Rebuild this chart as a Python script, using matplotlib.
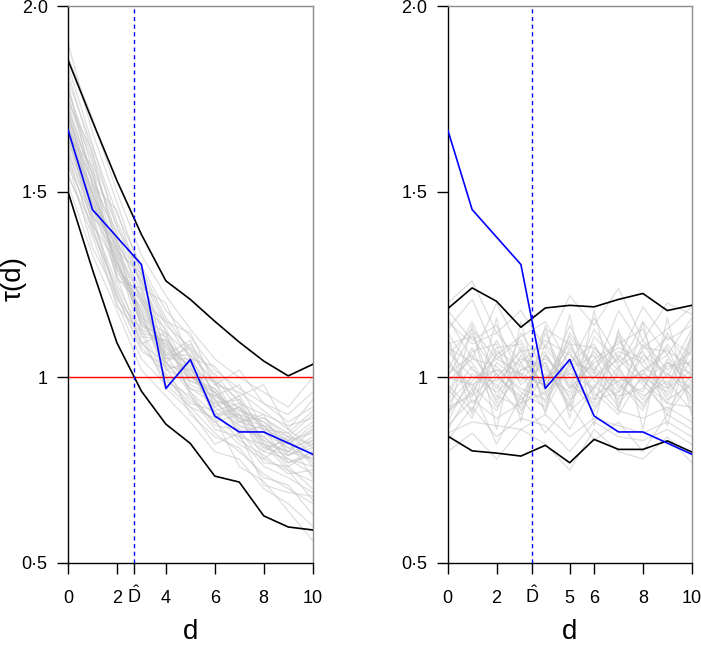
import matplotlib
matplotlib.use("Agg")
import matplotlib.pyplot as plt

plt.rcParams['font.family'] = ['Liberation Sans', 'DejaVu Sans']
plt.rcParams['mathtext.fontset'] = 'custom'
plt.rcParams['mathtext.rm'] = 'Liberation Sans'

d = list(range(11))

# observed statistic (same in both panels)
observed = [1.667, 1.452, 1.378, 1.304, 0.970, 1.048, 0.896, 0.853, 0.853, 0.823, 0.793]

# pointwise envelopes
left_upper = [1.855, 1.69, 1.53, 1.385, 1.26, 1.21, 1.151, 1.095, 1.044, 1.004, 1.035]
left_lower = [1.50, 1.29, 1.093, 0.963, 0.874, 0.822, 0.734, 0.718, 0.627, 0.597, 0.589]
right_upper = [1.185, 1.241, 1.205, 1.135, 1.187, 1.194, 1.19, 1.21, 1.226, 1.18, 1.194]
right_lower = [0.842, 0.802, 0.796, 0.788, 0.817, 0.77, 0.833, 0.806, 0.806, 0.829, 0.799]

d_hat_left = 2.71
d_hat_right = 3.44

left_ticks = [0, 2, d_hat_left, 4, 6, 8, 10]
left_ticklabels = ['0', '2', r'$\hat{\mathrm{D}}$', '4', '6', '8', '10']
right_ticks = [0, 2, d_hat_right, 5, 6, 8, 10]
right_ticklabels = ['0', '2', r'$\hat{\mathrm{D}}$', '5', '6', '8', '10']
y_ticks = [0.5, 1, 1.5, 2.0]
y_ticklabels = ['0·5', '1', '1·5', '2·0']

# simulated curves (grey)
sim_left = [
    [1.72, 1.55, 1.33, 1.22, 1.05, 1.08, 0.95, 0.98, 0.86, 0.83, 0.88],
    [1.61, 1.42, 1.25, 1.12, 1.10, 0.96, 0.90, 0.85, 0.80, 0.84, 0.76],
    [1.80, 1.62, 1.44, 1.30, 1.18, 1.11, 1.02, 0.97, 0.93, 0.88, 0.92],
    [1.55, 1.38, 1.20, 1.05, 0.98, 0.92, 0.85, 0.80, 0.74, 0.70, 0.66],
    [1.68, 1.47, 1.35, 1.15, 1.09, 0.99, 0.97, 0.88, 0.90, 0.79, 0.83],
    [1.75, 1.58, 1.38, 1.26, 1.12, 1.06, 0.99, 0.94, 0.86, 0.85, 0.79],
    [1.63, 1.50, 1.29, 1.17, 1.02, 1.04, 0.91, 0.93, 0.82, 0.77, 0.80],
    [1.90, 1.66, 1.47, 1.28, 1.15, 1.05, 0.96, 0.90, 0.88, 0.83, 0.85],
    [1.58, 1.35, 1.22, 1.08, 1.01, 0.94, 0.88, 0.82, 0.78, 0.75, 0.72],
    [1.70, 1.52, 1.30, 1.20, 1.07, 1.01, 0.92, 0.95, 0.85, 0.82, 0.86],
    [1.66, 1.44, 1.32, 1.14, 1.11, 1.00, 0.96, 0.87, 0.83, 0.80, 0.78],
    [1.78, 1.56, 1.41, 1.25, 1.04, 1.09, 1.00, 0.91, 0.89, 0.84, 0.90],
    [1.62, 1.46, 1.27, 1.19, 1.06, 0.97, 0.93, 0.89, 0.80, 0.78, 0.74],
    [1.73, 1.49, 1.36, 1.13, 1.09, 1.03, 0.89, 0.92, 0.87, 0.81, 0.83],
    [1.59, 1.40, 1.23, 1.10, 0.99, 0.95, 0.86, 0.84, 0.76, 0.73, 0.69],
    [1.84, 1.63, 1.40, 1.29, 1.16, 1.07, 0.98, 0.96, 0.91, 0.86, 0.94],
    [1.67, 1.53, 1.28, 1.21, 1.03, 1.02, 0.94, 0.86, 0.84, 0.79, 0.81],
    [1.69, 1.45, 1.34, 1.16, 1.12, 0.98, 0.95, 0.90, 0.81, 0.83, 0.77],
    [1.64, 1.51, 1.30, 1.18, 1.05, 1.05, 0.90, 0.92, 0.83, 0.76, 0.80],
    [1.76, 1.54, 1.37, 1.23, 1.08, 1.00, 0.97, 0.89, 0.87, 0.84, 0.82],
    [1.57, 1.43, 1.21, 1.13, 1.00, 0.93, 0.91, 0.83, 0.79, 0.74, 0.75],
    [1.71, 1.48, 1.32, 1.11, 1.10, 1.04, 0.93, 0.94, 0.82, 0.80, 0.84],
    [1.65, 1.57, 1.26, 1.24, 1.02, 0.99, 0.96, 0.88, 0.86, 0.77, 0.79],
    [1.82, 1.60, 1.42, 1.27, 1.14, 1.08, 1.01, 0.93, 0.90, 0.87, 0.89],
    [1.60, 1.39, 1.24, 1.09, 1.04, 0.96, 0.87, 0.86, 0.77, 0.76, 0.70],
    [1.74, 1.52, 1.39, 1.20, 1.13, 1.01, 0.94, 0.91, 0.88, 0.82, 0.87],
    [1.66, 1.41, 1.31, 1.15, 1.06, 1.06, 0.92, 0.87, 0.85, 0.81, 0.78],
    [1.70, 1.55, 1.29, 1.22, 1.04, 0.97, 0.95, 0.92, 0.81, 0.79, 0.82],
    [1.63, 1.47, 1.33, 1.14, 1.08, 1.03, 0.90, 0.90, 0.84, 0.78, 0.76],
    [1.77, 1.59, 1.36, 1.26, 1.10, 1.02, 0.99, 0.88, 0.89, 0.85, 0.91],
    [1.52, 1.33, 1.18, 1.02, 0.95, 0.88, 0.80, 0.78, 0.70, 0.66, 0.60],
    [1.86, 1.70, 1.50, 1.33, 1.22, 1.13, 1.05, 1.00, 0.96, 0.92, 1.00],
    [1.69, 1.50, 1.31, 1.18, 1.00, 0.92, 0.89, 0.76, 0.72, 0.64, 0.56],
    [1.72, 1.46, 1.35, 1.21, 1.15, 1.12, 0.98, 1.02, 0.93, 0.90, 0.96],
    [1.61, 1.44, 1.22, 1.07, 1.03, 0.90, 0.84, 0.81, 0.73, 0.71, 0.63],
    [1.79, 1.52, 1.45, 1.24, 1.20, 1.05, 1.03, 0.95, 0.98, 0.86, 0.81],
    [1.54, 1.41, 1.19, 1.12, 0.97, 0.91, 0.82, 0.85, 0.71, 0.69, 0.68],
    [1.67, 1.49, 1.27, 1.09, 1.12, 0.95, 0.88, 0.90, 0.78, 0.83, 0.73],
    [1.74, 1.61, 1.34, 1.28, 1.06, 1.10, 0.94, 0.85, 0.87, 0.80, 0.86],
    [1.65, 1.43, 1.37, 1.16, 1.04, 1.00, 0.99, 0.84, 0.82, 0.75, 0.67],
]

sim_right = [
    [1.05, 0.95, 1.10, 0.98, 1.04, 0.92, 1.08, 1.00, 0.96, 1.12, 1.02],
    [0.96, 1.08, 0.93, 1.06, 0.97, 1.10, 0.94, 1.03, 1.07, 0.95, 1.05],
    [1.12, 1.02, 0.98, 0.90, 1.09, 1.01, 0.97, 1.11, 0.99, 0.93, 1.08],
    [0.90, 0.99, 1.05, 1.01, 0.91, 1.04, 1.02, 0.94, 1.06, 1.01, 0.97],
    [1.02, 1.15, 1.00, 0.95, 1.06, 0.97, 1.13, 1.03, 0.92, 1.04, 0.99],
    [0.98, 0.91, 1.07, 1.03, 0.99, 1.09, 0.96, 0.90, 1.01, 1.08, 0.94],
    [1.08, 1.04, 0.94, 1.12, 1.02, 0.95, 1.05, 1.09, 1.13, 0.97, 1.10],
    [0.93, 1.00, 1.02, 0.97, 0.94, 1.03, 0.92, 1.01, 0.95, 0.99, 0.91],
    [1.15, 1.09, 1.12, 1.04, 1.10, 1.06, 1.00, 1.07, 1.04, 1.11, 1.06],
    [0.87, 0.94, 0.89, 0.93, 0.96, 0.86, 0.98, 0.91, 0.89, 0.92, 0.88],
    [1.01, 1.06, 0.97, 1.08, 0.93, 1.12, 1.03, 0.96, 1.09, 1.00, 1.13],
    [0.97, 0.89, 1.04, 0.99, 1.07, 0.94, 1.00, 1.05, 0.98, 0.91, 1.01],
    [1.09, 1.11, 1.01, 0.94, 1.00, 1.04, 1.09, 0.97, 1.02, 1.06, 0.96],
    [0.94, 1.03, 0.92, 1.02, 1.05, 0.99, 0.91, 1.02, 0.94, 1.03, 1.04],
    [1.04, 0.97, 1.08, 1.09, 0.96, 1.02, 1.06, 0.93, 1.00, 0.96, 1.09],
    [1.00, 1.12, 0.95, 0.92, 1.12, 0.97, 1.04, 1.08, 1.05, 0.94, 0.98],
    [0.91, 0.96, 1.06, 1.00, 0.98, 1.07, 0.95, 0.99, 0.91, 1.05, 0.93],
    [1.07, 1.00, 0.99, 1.05, 1.03, 0.93, 1.11, 1.04, 1.10, 1.02, 1.07],
    [0.99, 1.05, 1.03, 0.96, 0.92, 1.08, 0.99, 0.95, 0.97, 1.09, 1.00],
    [1.11, 0.93, 1.00, 1.07, 1.08, 1.00, 0.93, 1.12, 1.03, 0.98, 1.11],
    [0.95, 1.07, 1.09, 0.91, 1.01, 0.96, 1.07, 0.98, 0.93, 1.01, 0.95],
    [1.03, 0.98, 0.91, 1.04, 0.95, 1.05, 1.01, 0.92, 1.08, 1.07, 1.03],
    [0.88, 1.01, 0.96, 1.02, 1.04, 0.91, 0.97, 1.06, 1.00, 0.90, 0.99],
    [1.18, 1.10, 1.14, 1.00, 1.13, 1.09, 1.08, 1.02, 1.15, 1.06, 1.16],
    [0.85, 0.88, 0.87, 0.86, 0.90, 0.84, 0.89, 0.87, 0.85, 0.88, 0.84],
    [1.06, 1.13, 1.05, 1.10, 0.99, 1.11, 1.02, 1.10, 0.99, 1.04, 1.01],
    [0.92, 0.95, 1.01, 0.93, 1.06, 0.98, 0.94, 0.96, 1.02, 0.93, 0.92],
    [1.13, 1.21, 1.06, 1.11, 1.15, 1.03, 1.16, 1.05, 1.19, 1.10, 1.14],
    [0.83, 0.92, 0.84, 0.89, 0.87, 0.80, 0.88, 0.84, 0.83, 0.86, 0.82],
    [1.00, 0.98, 1.02, 1.01, 0.98, 1.01, 1.00, 0.99, 1.01, 0.97, 1.02],
    [1.20, 1.26, 1.12, 1.18, 1.08, 1.22, 1.14, 1.24, 1.10, 1.20, 1.17],
    [0.80, 0.85, 0.78, 0.86, 0.82, 0.75, 0.86, 0.80, 0.78, 0.84, 0.77],
    [1.10, 0.90, 1.16, 0.88, 1.14, 0.89, 1.18, 0.91, 1.15, 0.87, 1.12],
    [0.89, 1.14, 0.86, 1.15, 0.90, 1.17, 0.87, 1.13, 0.86, 1.16, 0.90],
    [1.16, 1.05, 1.20, 1.07, 0.97, 1.14, 1.01, 1.18, 1.08, 1.13, 1.19],
    [0.86, 0.97, 0.82, 0.95, 0.85, 0.93, 0.83, 0.88, 0.80, 0.90, 0.86],
]

fig = plt.figure(figsize=(7.01, 6.46), dpi=100)
ax1 = fig.add_axes([0.097, 0.1285, 0.349, 0.862])
ax2 = fig.add_axes([0.6387, 0.1285, 0.348, 0.862])

panels = [
    (ax1, sim_left, left_upper, left_lower, d_hat_left, left_ticks, left_ticklabels),
    (ax2, sim_right, right_upper, right_lower, d_hat_right, right_ticks, right_ticklabels),
]

for ax, sims, upper, lower, d_hat, xt, xtl in panels:
    for s in sims:
        ax.plot(d, s, color='#c4c4c4', lw=0.9, alpha=0.55, zorder=1)
    ax.axhline(1, color='red', lw=1.0, zorder=2)
    ax.plot(d, upper, color='black', lw=1.2, zorder=3)
    ax.plot(d, lower, color='black', lw=1.2, zorder=3)
    ax.plot(d, observed, color='blue', lw=1.2, zorder=4)
    ax.axvline(d_hat, color='blue', lw=1.0, ls=(0, (3, 2.5)), zorder=5)

    ax.set_xlim(0, 10)
    ax.set_ylim(0.5, 2.0)
    ax.set_xticks(xt)
    ax.set_xticklabels(xtl)
    ax.set_yticks(y_ticks)
    ax.set_yticklabels(y_ticklabels)
    ax.tick_params(axis='both', direction='out', length=7.6, width=1.0,
                   labelsize=13, color='black')
    ax.tick_params(axis='x', pad=21)
    ax.tick_params(axis='y', pad=7)
    for lbl in ax.get_xticklabels():
        lbl.set_va('baseline')
    ax.spines['left'].set_color('black')
    ax.spines['bottom'].set_color('black')
    ax.spines['top'].set_color('#8c8c8c')
    ax.spines['right'].set_color('#8c8c8c')
    for sp in ax.spines.values():
        sp.set_linewidth(1.0)
    ax.set_xlabel('d', fontsize=20, labelpad=9)

ax1.set_ylabel('τ(d)', fontsize=20)
ax1.yaxis.set_label_coords(-0.17, 0.51)

fig.savefig('out.png', dpi=100)
